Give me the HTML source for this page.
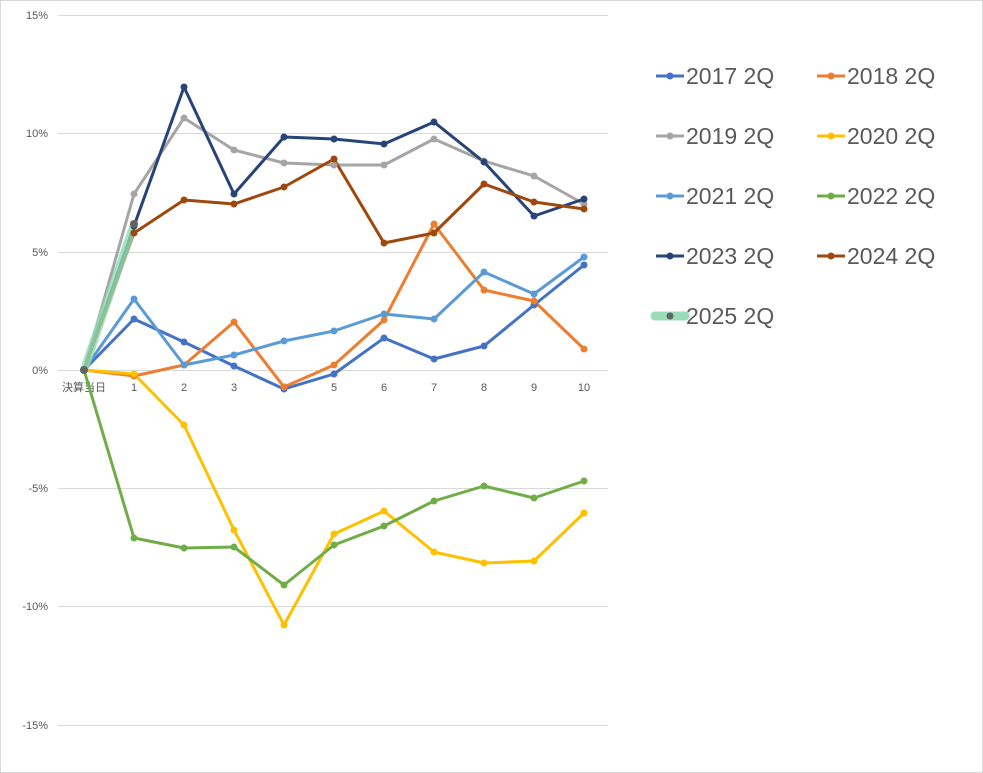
<!DOCTYPE html>
<html><head><meta charset="utf-8"><style>
body{margin:0;background:#fff}
svg{display:block;font-family:"Liberation Sans","Noto Sans CJK JP",sans-serif}
</style></head><body>
<svg width="983" height="773" viewBox="0 0 983 773">
<rect x="0.5" y="0.5" width="982" height="772" fill="#fff" stroke="#d9d9d9"/>
<g stroke="#d9d9d9" stroke-width="1">
<line x1="58" x2="608" y1="15.5" y2="15.5"/><line x1="58" x2="608" y1="133.5" y2="133.5"/>
<line x1="58" x2="608" y1="252.5" y2="252.5"/><line x1="58" x2="608" y1="370.5" y2="370.5"/>
<line x1="58" x2="608" y1="488.5" y2="488.5"/><line x1="58" x2="608" y1="606.5" y2="606.5"/>
<line x1="58" x2="608" y1="725.5" y2="725.5"/>
</g>
<g fill="#595959" font-size="11" text-anchor="end">
<text x="48" y="19">15%</text><text x="48" y="137">10%</text><text x="48" y="256">5%</text>
<text x="48" y="374">0%</text><text x="48" y="492">-5%</text><text x="48" y="610">-10%</text><text x="48" y="729">-15%</text>
</g>
<g fill="#595959" font-size="11" text-anchor="middle">
<text x="84" y="391">決算当日</text><text x="134" y="391">1</text><text x="184" y="391">2</text><text x="234" y="391">3</text><text x="284" y="391">4</text><text x="334" y="391">5</text><text x="384" y="391">6</text><text x="434" y="391">7</text><text x="484" y="391">8</text><text x="534" y="391">9</text><text x="584" y="391">10</text>
</g>
<g fill="none" stroke-width="3" stroke-linejoin="round">
<polyline stroke="#4472C4" points="84,370 134,319 184,342 234,366 284,389 334,374 384,338 434,359 484,346 534,305 584,265"/>
<polyline stroke="#ED7D31" points="84,370 134,376 184,365 234,322 284,387 334,365 384,320 434,224 484,290 534,301 584,349"/>
<polyline stroke="#A5A5A5" points="84,370 134,194 184,118 234,150 284,163 334,165 384,165 434,139 484,161 534,176 584,204"/>
<polyline stroke="#FFC000" points="84,370 134,374 184,425 234,530 284,625 334,534 384,511 434,552 484,563 534,561 584,513"/>
<polyline stroke="#5B9BD5" points="84,370 134,299 184,365 234,355 284,341 334,331 384,314 434,319 484,272 534,294 584,257"/>
<polyline stroke="#70AD47" points="84,370 134,538 184,548 234,547 284,585 334,545 384,526 434,501 484,486 534,498 584,481"/>
<polyline stroke="#264478" points="84,370 134,226 184,87 234,194 284,137 334,139 384,144 434,122 484,162 534,216 584,199"/>
<polyline stroke="#9E480E" points="84,370 134,233 184,200 234,204 284,187 334,159 384,243 434,233 484,184 534,202 584,209"/>
<polyline stroke="#8fdcb4" stroke-opacity="0.8" stroke-width="8" stroke-linecap="round" points="84,370 134,224"/>
</g>
<g>
<g fill="#4472C4"><circle cx="134" cy="319" r="3.5"/><circle cx="184" cy="342" r="3.5"/><circle cx="234" cy="366" r="3.5"/><circle cx="284" cy="389" r="3.5"/><circle cx="334" cy="374" r="3.5"/><circle cx="384" cy="338" r="3.5"/><circle cx="434" cy="359" r="3.5"/><circle cx="484" cy="346" r="3.5"/><circle cx="534" cy="305" r="3.5"/><circle cx="584" cy="265" r="3.5"/></g>
<g fill="#ED7D31"><circle cx="134" cy="376" r="3.5"/><circle cx="184" cy="365" r="3.5"/><circle cx="234" cy="322" r="3.5"/><circle cx="284" cy="387" r="3.5"/><circle cx="334" cy="365" r="3.5"/><circle cx="384" cy="320" r="3.5"/><circle cx="434" cy="224" r="3.5"/><circle cx="484" cy="290" r="3.5"/><circle cx="534" cy="301" r="3.5"/><circle cx="584" cy="349" r="3.5"/></g>
<g fill="#A5A5A5"><circle cx="134" cy="194" r="3.5"/><circle cx="184" cy="118" r="3.5"/><circle cx="234" cy="150" r="3.5"/><circle cx="284" cy="163" r="3.5"/><circle cx="334" cy="165" r="3.5"/><circle cx="384" cy="165" r="3.5"/><circle cx="434" cy="139" r="3.5"/><circle cx="484" cy="161" r="3.5"/><circle cx="534" cy="176" r="3.5"/><circle cx="584" cy="204" r="3.5"/></g>
<g fill="#FFC000"><circle cx="134" cy="374" r="3.5"/><circle cx="184" cy="425" r="3.5"/><circle cx="234" cy="530" r="3.5"/><circle cx="284" cy="625" r="3.5"/><circle cx="334" cy="534" r="3.5"/><circle cx="384" cy="511" r="3.5"/><circle cx="434" cy="552" r="3.5"/><circle cx="484" cy="563" r="3.5"/><circle cx="534" cy="561" r="3.5"/><circle cx="584" cy="513" r="3.5"/></g>
<g fill="#5B9BD5"><circle cx="134" cy="299" r="3.5"/><circle cx="184" cy="365" r="3.5"/><circle cx="234" cy="355" r="3.5"/><circle cx="284" cy="341" r="3.5"/><circle cx="334" cy="331" r="3.5"/><circle cx="384" cy="314" r="3.5"/><circle cx="434" cy="319" r="3.5"/><circle cx="484" cy="272" r="3.5"/><circle cx="534" cy="294" r="3.5"/><circle cx="584" cy="257" r="3.5"/></g>
<g fill="#70AD47"><circle cx="134" cy="538" r="3.5"/><circle cx="184" cy="548" r="3.5"/><circle cx="234" cy="547" r="3.5"/><circle cx="284" cy="585" r="3.5"/><circle cx="334" cy="545" r="3.5"/><circle cx="384" cy="526" r="3.5"/><circle cx="434" cy="501" r="3.5"/><circle cx="484" cy="486" r="3.5"/><circle cx="534" cy="498" r="3.5"/><circle cx="584" cy="481" r="3.5"/></g>
<g fill="#264478"><circle cx="134" cy="226" r="3.5"/><circle cx="184" cy="87" r="3.5"/><circle cx="234" cy="194" r="3.5"/><circle cx="284" cy="137" r="3.5"/><circle cx="334" cy="139" r="3.5"/><circle cx="384" cy="144" r="3.5"/><circle cx="434" cy="122" r="3.5"/><circle cx="484" cy="162" r="3.5"/><circle cx="534" cy="216" r="3.5"/><circle cx="584" cy="199" r="3.5"/></g>
<g fill="#9E480E"><circle cx="134" cy="233" r="3.5"/><circle cx="184" cy="200" r="3.5"/><circle cx="234" cy="204" r="3.5"/><circle cx="284" cy="187" r="3.5"/><circle cx="334" cy="159" r="3.5"/><circle cx="384" cy="243" r="3.5"/><circle cx="434" cy="233" r="3.5"/><circle cx="484" cy="184" r="3.5"/><circle cx="534" cy="202" r="3.5"/><circle cx="584" cy="209" r="3.5"/></g>
<g fill="#636363"><circle cx="84" cy="370" r="4"/><circle cx="134" cy="224" r="4"/></g>
</g>
<g font-size="23" fill="#595959">
<line x1="656" x2="684" y1="76" y2="76" stroke="#4472C4" stroke-width="3"/><circle cx="670" cy="76" r="3.5" fill="#4472C4"/><text x="686" y="84">2017 2Q</text>
<line x1="817" x2="845" y1="76" y2="76" stroke="#ED7D31" stroke-width="3"/><circle cx="831" cy="76" r="3.5" fill="#ED7D31"/><text x="847" y="84">2018 2Q</text>
<line x1="656" x2="684" y1="136" y2="136" stroke="#A5A5A5" stroke-width="3"/><circle cx="670" cy="136" r="3.5" fill="#A5A5A5"/><text x="686" y="144">2019 2Q</text>
<line x1="817" x2="845" y1="136" y2="136" stroke="#FFC000" stroke-width="3"/><circle cx="831" cy="136" r="3.5" fill="#FFC000"/><text x="847" y="144">2020 2Q</text>
<line x1="656" x2="684" y1="196" y2="196" stroke="#5B9BD5" stroke-width="3"/><circle cx="670" cy="196" r="3.5" fill="#5B9BD5"/><text x="686" y="204">2021 2Q</text>
<line x1="817" x2="845" y1="196" y2="196" stroke="#70AD47" stroke-width="3"/><circle cx="831" cy="196" r="3.5" fill="#70AD47"/><text x="847" y="204">2022 2Q</text>
<line x1="656" x2="684" y1="256" y2="256" stroke="#264478" stroke-width="3"/><circle cx="670" cy="256" r="3.5" fill="#264478"/><text x="686" y="264">2023 2Q</text>
<line x1="817" x2="845" y1="256" y2="256" stroke="#9E480E" stroke-width="3"/><circle cx="831" cy="256" r="3.5" fill="#9E480E"/><text x="847" y="264">2024 2Q</text>
<line x1="655" x2="685" y1="316" y2="316" stroke="#98dcb8" stroke-width="9" stroke-linecap="round"/><circle cx="670" cy="316" r="3.5" fill="#636363"/><text x="686" y="324">2025 2Q</text>
</g>
</svg>
</body></html>
